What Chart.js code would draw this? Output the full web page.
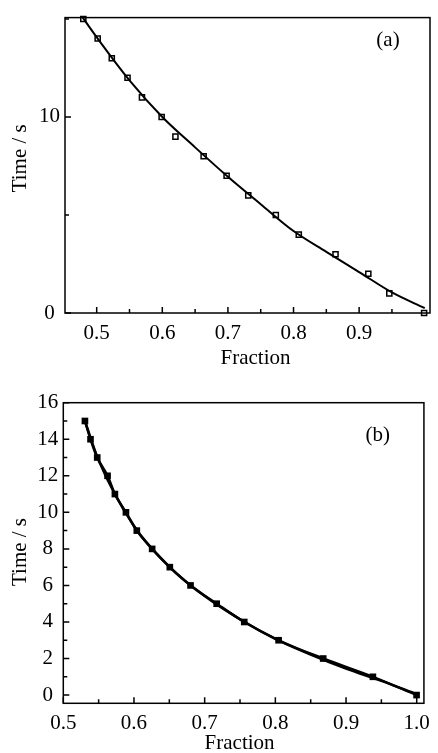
<!DOCTYPE html>
<html>
<head>
<meta charset="utf-8">
<script src="https://cdn.jsdelivr.net/npm/chart.js@4.4.0/dist/chart.umd.min.js"></script>
<style>
  html, body { margin: 0; padding: 0; background: #fff; }
  #boxA { position: absolute; left: 0; top: 0; width: 438px; height: 380px; }
  #boxB { position: absolute; left: 0; top: 380px; width: 438px; height: 373px; }
</style>
</head>
<body>
<div id="boxA"><canvas id="chartA"></canvas></div>
<div id="boxB"><canvas id="chartB"></canvas></div>
<script>
// Panel (a): medidos + curva ajustada
const fractionA = [0.4796, 0.5015, 0.523, 0.547, 0.569, 0.599, 0.62, 0.663, 0.698, 0.731, 0.773, 0.808, 0.864, 0.914, 0.946, 0.999];
const timeA = [15, 14, 13, 12, 11, 10, 9, 8, 7, 6, 5, 4, 3, 2, 1, 0];
const fitFractionA = [0.475, 0.5, 0.55, 0.6, 0.65, 0.7, 0.75, 0.8, 0.85, 0.9, 0.95, 1.0];
const fitTimeA = [15.25, 14.07, 11.87, 10.0, 8.45, 6.95, 5.55, 4.18, 3.12, 2.09, 1.05, 0.25];
const xTicksA = [0.5, 0.6, 0.7, 0.8, 0.9];
const xMinorA = [0.55, 0.65, 0.75, 0.85, 0.95];
const yTicksA = [0, 10];
const yMinorA = [5, 15];

// Panel (b): medidos + curva ajustada
const fractionB = [0.5306, 0.5385, 0.548, 0.5626, 0.573, 0.5886, 0.604, 0.6257, 0.6507, 0.68, 0.717, 0.756, 0.8046, 0.8677, 0.938, 0.9998];
const timeB = [15, 14, 13, 12, 11, 10, 9, 8, 7, 6, 5, 4, 3, 2, 1, 0];
const fitFractionB = [0.5306, 0.55, 0.6, 0.65, 0.7, 0.75, 0.8, 0.85, 0.9, 0.95, 1.0];
const fitTimeB = [15.0, 12.85, 9.25, 7.02, 5.42, 4.15, 3.08, 2.22, 1.45, 0.78, 0.05];
const xTicksB = [0.5, 0.6, 0.7, 0.8, 0.9, 1.0];
const xMinorB = [0.55, 0.65, 0.75, 0.85, 0.95];
const yTicksB = [0, 2, 4, 6, 8, 10, 12, 14, 16];
const yMinorB = [1, 3, 5, 7, 9, 11, 13, 15];

const fuente = "Liberation Serif";
const tam = 21;
const toXY = (xs, ys) => xs.map((v, i) => ({ x: v, y: ys[i] }));

// marco, ticks hacia dentro, titulos de ejes y etiqueta del panel
const marcoPlugin = {
  id: "marco",
  afterDatasetsDraw(chart, args, opts) {
    const { ctx, chartArea: a, scales: { x, y } } = chart;
    ctx.save();
    ctx.strokeStyle = "#000";
    ctx.lineWidth = 1.5;
    ctx.strokeRect(a.left, a.top, a.right - a.left, a.bottom - a.top);
    ctx.beginPath();
    const tickX = (v, len) => {
      const px = x.getPixelForValue(v);
      ctx.moveTo(px, a.bottom);
      ctx.lineTo(px, a.bottom - len);
    };
    const tickY = (v, len) => {
      const py = y.getPixelForValue(v);
      ctx.moveTo(a.left, py);
      ctx.lineTo(a.left + len, py);
    };
    opts.xMajor.forEach((v) => tickX(v, 6));
    opts.xMinor.forEach((v) => tickX(v, 4));
    opts.yMajor.forEach((v) => tickY(v, 6));
    opts.yMinor.forEach((v) => tickY(v, 4));
    ctx.stroke();

    ctx.fillStyle = "#000";
    ctx.font = `${tam}px "${fuente}"`;
    ctx.textAlign = "center";
    ctx.textBaseline = "middle";
    ctx.fillText(opts.label, x.getPixelForValue(opts.labelX), y.getPixelForValue(opts.labelY));
    // titulo eje x
    ctx.fillText("Fraction", (a.left + a.right) / 2 + opts.xTitleDx, a.bottom + opts.xTitleDy);
    // titulo eje y
    ctx.translate(a.left - opts.yTitleDx, (a.top + a.bottom) / 2 + opts.yTitleDy);
    ctx.rotate(-Math.PI / 2);
    ctx.fillText("Time / s", 0, 0);
    ctx.restore();
  },
};

const makeScales = (cfg) => ({
  x: {
    type: "linear",
    min: cfg.xMin,
    max: cfg.xMax,
    grid: { display: false, drawTicks: false },
    border: { display: false },
    ticks: {
      padding: 8,
      color: "#000",
      font: { family: fuente, size: tam },
      maxRotation: 0,
      autoSkip: false,
      callback: (v) => v.toFixed(1),
    },
    afterBuildTicks: (s) => {
      s.ticks = cfg.xTicks.map((v) => ({ value: v }));
    },
    afterFit: (s) => {
      s.height = cfg.xHeight;
    },
  },
  y: {
    type: "linear",
    min: cfg.yMin,
    max: cfg.yMax,
    grid: { display: false, drawTicks: false },
    border: { display: false },
    ticks: {
      padding: 5,
      crossAlign: "center",
      color: "#000",
      font: { family: fuente, size: tam },
      autoSkip: false,
      callback: (v) => String(v),
    },
    afterBuildTicks: (s) => {
      s.ticks = cfg.yTicks.map((v) => ({ value: v }));
    },
    afterFit: (s) => {
      s.width = cfg.yWidth;
    },
  },
});

const graficoA = new Chart(document.getElementById("chartA"), {
  type: "scatter",
  data: {
    datasets: [
      {
        label: "ajuste",
        data: toXY(fitFractionA, fitTimeA),
        showLine: true,
        borderColor: "#000",
        borderWidth: 2,
        pointRadius: 0,
        cubicInterpolationMode: "monotone",
      },
      {
        label: "datos",
        data: toXY(fractionA, timeA),
        showLine: false,
        pointStyle: "rect",
        pointRadius: 3.6,
        pointBorderWidth: 1.5,
        pointBorderColor: "#000",
        pointBackgroundColor: "#fff",
        clip: false,
      },
    ],
  },
  options: {
    responsive: true,
    maintainAspectRatio: false,
    animation: false,
    layout: { padding: { top: 16, right: 8, left: 0, bottom: 0 } },
    scales: makeScales({
      xMin: 0.4517, xMax: 1.008, yMin: 0, yMax: 15.07,
      xTicks: xTicksA, yTicks: yTicksA,
      xHeight: 67, yWidth: 65,
    }),
    plugins: {
      legend: { display: false },
      tooltip: { enabled: false },
      marco: {
        xMajor: xTicksA, xMinor: xMinorA, yMajor: yTicksA, yMinor: yMinorA,
        label: "(a)", labelX: 0.944, labelY: 13.9,
        xTitleDx: 8, xTitleDy: 45, yTitleDx: 45, yTitleDy: -7,
      },
    },
  },
  plugins: [marcoPlugin],
});

const graficoB = new Chart(document.getElementById("chartB"), {
  type: "scatter",
  data: {
    datasets: [
      {
        label: "ajuste",
        data: toXY(fitFractionB, fitTimeB),
        showLine: true,
        borderColor: "#000",
        borderWidth: 2.5,
        pointRadius: 0,
        cubicInterpolationMode: "monotone",
      },
      {
        label: "datos",
        data: toXY(fractionB, timeB),
        showLine: true,
        borderColor: "#000",
        borderWidth: 2.5,
        cubicInterpolationMode: "monotone",
        pointStyle: "rect",
        pointRadius: 4.7,
        pointBorderWidth: 0,
        pointBackgroundColor: "#000",
        clip: false,
      },
    ],
  },
  options: {
    responsive: true,
    maintainAspectRatio: false,
    animation: false,
    layout: { padding: { top: 22.7, right: 8, left: 0, bottom: 0 } },
    scales: makeScales({
      xMin: 0.5, xMax: 1.0102, yMin: -0.45, yMax: 16,
      xTicks: xTicksB, yTicks: yTicksB,
      xHeight: 49.7, yWidth: 63.3,
    }),
    plugins: {
      legend: { display: false },
      tooltip: { enabled: false },
      marco: {
        xMajor: xTicksB, xMinor: xMinorB, yMajor: yTicksB, yMinor: yMinorB,
        label: "(b)", labelX: 0.9447, labelY: 14.23,
        xTitleDx: -4, xTitleDy: 40, yTitleDx: 43, yTitleDy: -1,
      },
    },
  },
  plugins: [marcoPlugin],
});
</script>
</body>
</html>
